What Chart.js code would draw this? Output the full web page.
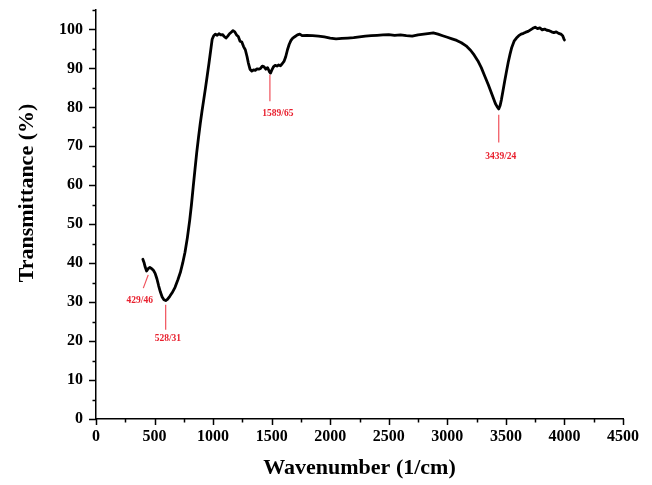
<!DOCTYPE html>
<html>
<head>
<meta charset="utf-8">
<script src="https://cdn.jsdelivr.net/npm/chart.js@4/dist/chart.umd.min.js"></script>
<style>
html,body{margin:0;padding:0;background:#fff;}
#wrap{width:652px;height:485px;}
</style>
</head>
<body>
<div id="wrap"><canvas id="c" width="652" height="485"></canvas></div>
<script>
// ---- data ----
const wavenumber = [400,410,420,432,445,460,475,490,505,520,535,550,565,580,595,610,630,650,675,700,720,740,760,780,800,815,830,845,860,875,890,905,920,935,950,965,980,992,1005,1020,1035,1050,1065,1080,1095,1110,1125,1140,1155,1170,1185,1200,1215,1230,1245,1260,1275,1290,1300,1315,1330,1345,1360,1375,1390,1405,1420,1435,1450,1465,1480,1490,1500,1515,1530,1545,1560,1575,1590,1605,1620,1635,1650,1665,1680,1700,1720,1740,1760,1800,1850,1900,1950,2000,2050,2100,2150,2200,2250,2300,2350,2400,2450,2500,2550,2600,2650,2700,2750,2800,2850,2880,2920,2960,3000,3040,3080,3120,3160,3200,3230,3260,3290,3320,3350,3375,3395,3410,3425,3439,3450,3462,3475,3490,3505,3520,3535,3550,3570,3590,3610,3630,3650,3670,3690,3710,3730,3750,3770,3790,3810,3830,3850,3870,3890,3910,3930,3950,3970,3985,3995,4000];
const transmittance = [41.0,40.2,39.0,38.0,38.6,38.9,38.6,38.2,37.4,36.0,34.2,32.6,31.3,30.6,30.4,30.7,31.5,32.4,33.8,35.8,37.6,40.0,42.8,46.5,51.0,55.0,59.6,64.0,68.4,72.2,75.8,79.0,82.0,85.0,88.2,91.4,94.8,97.5,98.4,98.8,98.5,98.9,98.6,98.7,98.2,97.8,98.3,98.9,99.3,99.7,99.4,98.6,98.2,97.0,96.8,95.6,94.8,93.0,91.5,89.8,89.3,89.6,89.5,89.9,89.8,90.0,90.6,90.4,89.8,90.2,89.2,88.8,89.5,90.4,90.8,90.6,90.9,90.7,91.2,91.8,93.0,94.8,96.2,97.2,97.8,98.2,98.6,98.8,98.4,98.5,98.4,98.3,98.1,97.8,97.6,97.7,97.8,97.9,98.1,98.3,98.4,98.5,98.6,98.7,98.5,98.6,98.4,98.3,98.6,98.8,99.0,99.1,98.8,98.4,98.0,97.6,97.2,96.6,95.8,94.6,93.4,92.0,90.2,88.0,85.8,83.8,82.2,81.0,80.2,79.6,80.4,82.0,84.2,86.8,89.2,91.6,93.6,95.4,97.0,97.8,98.4,98.8,99.0,99.3,99.5,99.9,100.3,100.6,100.2,100.4,99.9,100.1,99.8,99.7,99.4,99.2,99.4,99.0,98.8,98.4,97.6,97.3];

const xTickValues = [0,500,1000,1500,2000,2500,3000,3500,4000,4500];
const yTickValues = [0,10,20,30,40,50,60,70,80,90,100];

// peak annotations: label, leader line start/end (data units), text anchor (data units)
const peakLabels = ['429/46','528/31','1589/65','3439/24'];
const leaderX1 = [404, 595, 1485, 3439];
const leaderY1 = [33.6, 29.3, 81.6, 71.0];
const leaderX2 = [446, 595, 1485, 3439];
const leaderY2 = [37.0, 22.9, 88.4, 78.1];
const labelX   = [373, 614, 1553, 3456];
const labelY   = [30.3, 20.6, 78.4, 67.4];

const xTitle = 'Wavenumber (1/cm)';
const yTitle = 'Transmittance (%)';

const SERIF = '"Liberation Serif","Times New Roman",serif';

const points = wavenumber.map((w,i)=>({x:w,y:transmittance[i]}));

const decor = {
  id:'decor',
  afterDraw(chart){
    const {ctx, chartArea, scales:{x,y}} = chart;
    ctx.save();
    // tick marks (major + minor), outward
    ctx.strokeStyle = '#000';
    ctx.lineWidth = 1.5;
    ctx.beginPath();
    for(let v=0; v<=4500; v+=250){
      const px = Math.round(x.getPixelForValue(v))+0.5;
      const len = (v%500===0)?6:3.5;
      ctx.moveTo(px, y.bottom); ctx.lineTo(px, y.bottom+len);
    }
    for(let v=0; v<=105; v+=5){
      const py = Math.round(y.getPixelForValue(v))+0.5;
      const len = (v%10===0)?7:3.5;
      ctx.moveTo(x.left, py); ctx.lineTo(x.left-len, py);
    }
    ctx.stroke();

    // peak annotations
    ctx.strokeStyle = '#f0505a';
    ctx.lineWidth = 1.2;
    ctx.fillStyle = '#e8202e';
    ctx.font = 'bold 9.5px ' + SERIF;
    ctx.textAlign = 'center';
    ctx.textBaseline = 'middle';
    for(let i=0;i<peakLabels.length;i++){
      ctx.beginPath();
      ctx.moveTo(x.getPixelForValue(leaderX1[i]), y.getPixelForValue(leaderY1[i]));
      ctx.lineTo(x.getPixelForValue(leaderX2[i]), y.getPixelForValue(leaderY2[i]));
      ctx.stroke();
      ctx.fillText(peakLabels[i], x.getPixelForValue(labelX[i]), y.getPixelForValue(labelY[i]));
    }

    // axis titles
    ctx.fillStyle = '#000';
    ctx.font = 'bold 22px ' + SERIF;
    ctx.textAlign = 'center';
    ctx.textBaseline = 'middle';
    ctx.fillText(xTitle, (chartArea.left+chartArea.right)/2, chartArea.bottom+49);
    ctx.translate(27, chartArea.top+183);
    ctx.rotate(-Math.PI/2);
    ctx.fillText(yTitle, 0, 0);
    ctx.restore();
  }
};

new Chart(document.getElementById('c'), {
  type:'line',
  data:{datasets:[{
    data:points,
    borderColor:'#000',
    borderWidth:2.8,
    pointRadius:0,
    tension:0,
    fill:false,
    borderJoinStyle:'round',
    borderCapStyle:'round'
  }]},
  options:{
    responsive:false,
    animation:false,
    devicePixelRatio:1,
    layout:{padding:{left:0,top:10,right:29,bottom:0}},
    plugins:{legend:{display:false},tooltip:{enabled:false}},
    scales:{
      x:{
        type:'linear', min:0, max:4500,
        afterFit(s){ s.height = 66; s.paddingLeft = 0; s.paddingRight = 0; },
        afterBuildTicks(s){ s.ticks = xTickValues.map(v=>({value:v})); },
        ticks:{autoSkip:false, maxRotation:0, padding:2, color:'#000',
               callback:(v)=>String(v),
               font:{family:SERIF, size:16, weight:'bold'}},
        grid:{display:true, drawOnChartArea:false, drawTicks:true, tickLength:6, color:'rgba(0,0,0,0)'},
        border:{display:true, color:'#000', width:1.5}
      },
      y:{
        type:'linear', min:0, max:105,
        afterFit(s){ s.width = 96; s.paddingTop = 0; s.paddingBottom = 0; },
        afterBuildTicks(s){ s.ticks = yTickValues.map(v=>({value:v})); },
        ticks:{autoSkip:false, padding:6, color:'#000',
               callback:(v)=>String(v),
               font:{family:SERIF, size:16, weight:'bold'}},
        grid:{display:true, drawOnChartArea:false, drawTicks:true, tickLength:7, color:'rgba(0,0,0,0)'},
        border:{display:true, color:'#000', width:1.5}
      }
    }
  },
  plugins:[decor]
});
</script>
</body>
</html>
